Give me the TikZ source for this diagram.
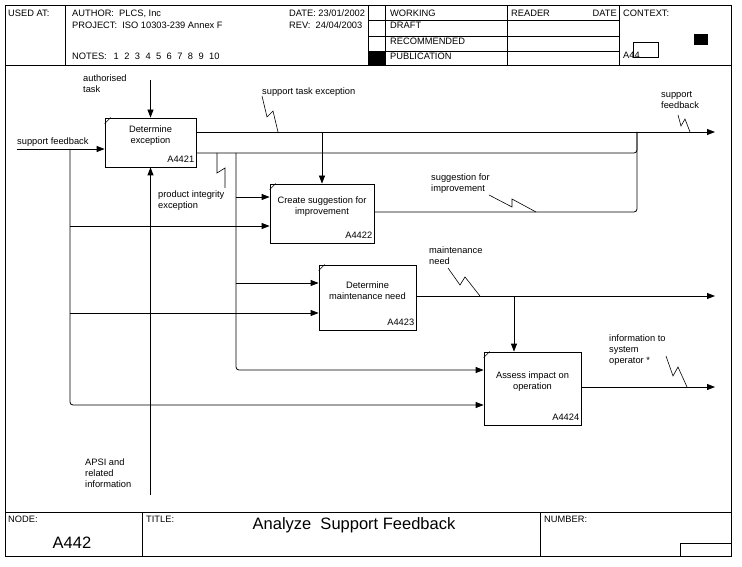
\documentclass[tikz,border=0pt]{standalone}
\usepackage{fontspec}
\setmainfont{Liberation Sans}
\usetikzlibrary{arrows.meta}

\begin{document}
\begin{tikzpicture}[x=1pt,y=-1pt]
        \tikzstyle{every node}=[font=\fontsize{9.3}{11}\selectfont,inner sep=0pt]
        \tikzstyle{frm}=[line width=0.8pt]
        \tikzstyle{activity}=[draw,line width=0.8pt]
        \tikzstyle{flow}=[line width=0.8pt,rounded corners=3pt,-{Triangle[length=8pt,width=6pt]}]
        \tikzstyle{pipe}=[line width=0.8pt,rounded corners=3pt]
        \tikzstyle{squiggle}=[line width=0.6pt]
        \tikzstyle{lbl}=[anchor=north west,align=left]
        \tikzstyle{txt}=[anchor=base west]
        \tikzstyle{big}=[font=\fontsize{16.5}{18}\selectfont]
        \useasboundingbox (0,0) rectangle (742,567);

        % frame
        \draw[frm] (5,5) rectangle (731,556);
        \draw[frm] (5,65) -- (731,65);
        \foreach \x in {65,368,385,507,619} \draw[frm] (\x,5) -- (\x,65);
        \foreach \y in {20,36,51} \draw[frm] (368,\y) -- (619,\y);
        \fill (368,51) rectangle (385,65);
        \draw[frm] (633,42) rectangle (658,57);
        \fill (694,34) rectangle (708,45);
        \draw[frm] (5,512) -- (731,512);
        \draw[frm] (142,512) -- (142,556);
        \draw[frm] (540,512) -- (540,556);
        \draw[frm] (680,556) |- (731,543);

        \node[txt] (usedat) at (8,16.5) {USED AT:};
        \node[txt] (author) at (72,16.5) {AUTHOR:\ \ PLCS, Inc};
        \node[txt] (project) at (72,28.5) {PROJECT:\ \ ISO 10303-239 Annex F};
        \node[txt] (notes) at (72,60) {NOTES:};
        \foreach \n in {1,...,10}
            \node[txt] (note\n) at ({113.5+10.6*(\n-1)},60) {\n};
        \node[txt] (date) at (289,16.5) {DATE: 23/01/2002};
        \node[txt] (rev) at (289,28.5) {REV:\ \ 24/04/2003};
        \node[txt] (working) at (390,16.5) {WORKING};
        \node[txt] (draft) at (390,29) {DRAFT};
        \node[txt] (recommended) at (390,45) {RECOMMENDED};
        \node[txt] (publication) at (390,60) {PUBLICATION};
        \node[txt] (reader) at (511,16.5) {READER};
        \node[anchor=base east] (rdate) at (617,16.5) {DATE};
        \node[txt] (context) at (623,16.5) {CONTEXT:};
        \node[txt] (ctxid) at (623,59) {A44};
        \node[txt] (nodelbl) at (8,522.5) {NODE:};
        \node[big,anchor=base] (nodeid) at (72,548) {A442};
        \node[txt] (titlelbl) at (146,522.5) {TITLE:};
        \node[big,anchor=base] (title) at (354,529) {Analyze\ \ Support Feedback};
        \node[txt] (numberlbl) at (544,522.5) {NUMBER:};

        % activities
        \node[activity,minimum width=91pt,minimum height=49pt] (a4421) at (150.5,142.5) {};
        \node[activity,minimum width=104pt,minimum height=59pt] (a4422) at (322,213.5) {};
        \node[activity,minimum width=97pt,minimum height=65pt] (a4423) at (367.5,297.5) {};
        \node[activity,minimum width=97pt,minimum height=73pt] (a4424) at (532.5,388.5) {};
        \foreach \b in {a4421,a4422,a4423,a4424}
            \draw[squiggle] (\b.north west) ++(0,6) -- ++(6,-6);
        \node[align=center,yshift=7pt] (t4421) at (a4421) {Determine\\exception};
        \node[align=center,yshift=7pt] (t4422) at (a4422) {Create suggestion for\\improvement};
        \node[align=center,yshift=7pt] (t4423) at (a4423) {Determine\\maintenance need};
        \node[align=center,yshift=7pt] (t4424) at (a4424) {Assess impact on\\operation};
        \foreach \b/\id in {a4421/A4421,a4422/A4422,a4423/A4423,a4424/A4424}
            \node[anchor=south east,xshift=-2pt,yshift=5pt] (id\b) at (\b.south east) {\id};

        % arrows
        \coordinate (fbin) at (17,149);
        \coordinate (fb) at (70,149);
        \coordinate (fb2) at (70,226);
        \coordinate (fb3) at (70,313);
        \coordinate (fb4) at (70,405);
        \coordinate (ctl) at (150.5,80);
        \coordinate (mech) at (150.5,495);
        \coordinate (o1) at (715,132);
        \coordinate (j) at (637,132);
        \coordinate (o2) at (236,153);
        \coordinate (pi2) at (236,197);
        \coordinate (pi3) at (236,283);
        \coordinate (pi4) at (236,370);
        \coordinate (s) at (637,212);
        \coordinate (mn) at (715,296);
        \coordinate (mnb) at (514,296);
        \coordinate (io) at (715,387);

        \draw[flow] (fbin) -- (a4421.west |- fbin);
        \draw[flow] (fb) -- (fb4) -- (a4424.west |- fb4);
        \draw[flow] (fb2) -- (a4422.west |- fb2);
        \draw[flow] (fb3) -- (a4423.west |- fb3);
        \draw[flow] (ctl) -- (a4421.north);
        \draw[flow] (mech) -- (a4421.south);
        \draw[flow] (a4421.east |- o1) -- (o1);
        \draw[flow] (a4422.north |- o1) -- (a4422.north);
        \draw[pipe] (a4421.east |- o2) -- (j |- o2) -- (j);
        \draw[flow] (o2) -- (pi4) -- (a4424.west |- pi4);
        \draw[flow] (pi2) -- (a4422.west |- pi2);
        \draw[flow] (pi3) -- (a4423.west |- pi3);
        \draw[pipe] (a4422.east |- s) -- (s) -- (j);
        \draw[flow] (a4423.east |- mn) -- (mn);
        \draw[flow] (mnb) -- (mnb |- a4424.north);
        \draw[flow] (a4424.east |- io) -- (io);

        % labels
        \node[lbl] (lauth) at (83,75) {authorised\\task};
        \node[txt] (lfbin) at (17,145) {support feedback};
        \node[txt] (lste) at (262,94.3) {support task exception};
        \node[lbl] (lpie) at (158,190.4) {product integrity\\exception};
        \node[lbl] (lfbout) at (661,91.4) {support\\feedback};
        \node[lbl] (lsug) at (431,173.4) {suggestion for\\improvement};
        \node[lbl] (lmn) at (429,246.2) {maintenance\\need};
        \node[lbl] (linfo) at (609,334.4) {information to\\system\\operator *};
        \node[lbl] (lapsi) at (85,458.4) {APSI and\\related\\information};
        \draw[squiggle] (262,96) -- (267,117) -- (273,111) -- (278,132);
        \draw[squiggle] (678,115) -- (681,126) -- (685,119) -- (690,132);
        \draw[squiggle] (217,153) -- (217,173) -- (225,168) -- (225,188);
        \draw[squiggle] (489,195) -- (512,207) -- (512,199) -- (536,212);
        \draw[squiggle] (448,268) -- (460,285) -- (465,277) -- (480,296);
        \draw[squiggle] (666,356) -- (673,376) -- (678,367) -- (687,387);
\end{tikzpicture}
\end{document}
